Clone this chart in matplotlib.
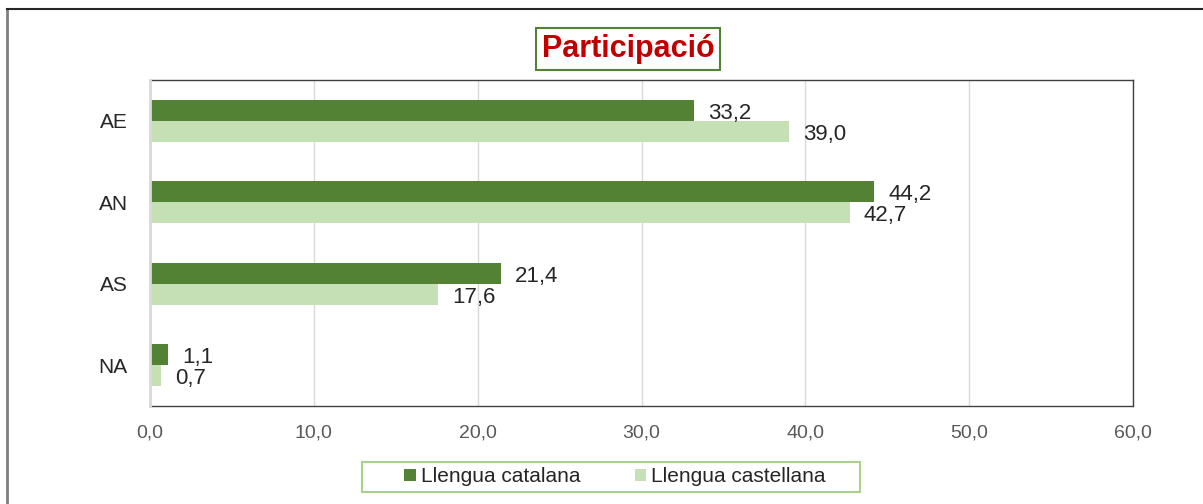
import matplotlib.pyplot as plt
import matplotlib.ticker as ticker
import numpy as np
from matplotlib.patches import Rectangle

plt.rcParams['font.family'] = ['Liberation Sans', 'DejaVu Sans']

categories = ['AE', 'AN', 'AS', 'NA']
catalana = [33.2, 44.2, 21.4, 1.1]
castellana = [39.0, 42.7, 17.6, 0.7]
series_names = ['Llengua catalana', 'Llengua castellana']

dark_green = '#548235'
light_green = '#c5e0b4'

fig = plt.figure(figsize=(12.03, 5.04), dpi=100)
ax = fig.add_axes([150 / 1203, 98 / 504, 983 / 1203, 326 / 504])

y = np.arange(len(categories))
h = 0.26
b1 = ax.barh(y - h / 2, catalana, height=h, color=dark_green, label=series_names[0], zorder=3)
b2 = ax.barh(y + h / 2, castellana, height=h, color=light_green, label=series_names[1], zorder=3)

for bars, vals in ((b1, catalana), (b2, castellana)):
    for bar, v in zip(bars, vals):
        ax.annotate('{:.1f}'.format(v).replace('.', ','),
                    (bar.get_width(), bar.get_y() + bar.get_height() / 2),
                    xytext=(14, -3), textcoords='offset pixels',
                    va='center', ha='left', fontsize=16, color='#262626')

ax.set_ylim(len(categories) - 0.5, -0.5)
ax.set_xlim(0, 60)
ax.set_yticks(y)
ax.set_yticklabels(categories, fontsize=15, color='#262626')
ax.xaxis.set_major_locator(ticker.MultipleLocator(10))
ax.xaxis.set_major_formatter(ticker.FuncFormatter(lambda v, p: '{:.1f}'.format(v).replace('.', ',')))
ax.tick_params(axis='x', length=0, pad=13, labelsize=14, labelcolor='#595959')
ax.tick_params(axis='y', length=0, pad=16)
ax.grid(axis='x', color='#d9d9d9', linewidth=1, zorder=0)

for side in ('top', 'right', 'bottom'):
    ax.spines[side].set_color('#404040')
    ax.spines[side].set_linewidth(1)
ax.spines['left'].set_color('#d9d9d9')
ax.spines['left'].set_linewidth(2)
ax.spines['left'].set_zorder(4)

fig.text(628 / 1203, 1 - 49 / 504, 'Participació', ha='center', va='center',
         fontsize=22, fontweight='bold', color='#c00000',
         bbox=dict(boxstyle='square,pad=0.2', facecolor='white', edgecolor=dark_green, linewidth=1.5))

# legend box drawn separately so it can be wider than its content
fig.add_artist(Rectangle((362 / 1203, 1 - 492 / 504), 498 / 1203, 30 / 504,
                         transform=fig.transFigure, facecolor='white',
                         edgecolor='#a9d18e', linewidth=1.5))
leg = fig.legend(loc='center', bbox_to_anchor=(615 / 1203, 1 - 477 / 504), ncol=2,
                 fontsize=15, frameon=False, handlelength=0.55, handleheight=0.55,
                 handletextpad=0.25, columnspacing=2.6, borderpad=0.25, borderaxespad=0)
for t in leg.get_texts():
    t.set_color('#262626')

# outer chart border (left and top edges visible)
fig.add_artist(plt.Line2D([7 / 1203, 7 / 1203], [0, 1 - 9 / 504], transform=fig.transFigure,
                          color='#7f7f7f', linewidth=2))
fig.add_artist(plt.Line2D([7 / 1203, 1], [1 - 9 / 504, 1 - 9 / 504], transform=fig.transFigure,
                          color='#262626', linewidth=1.5))

fig.savefig('out.png', dpi=100)
